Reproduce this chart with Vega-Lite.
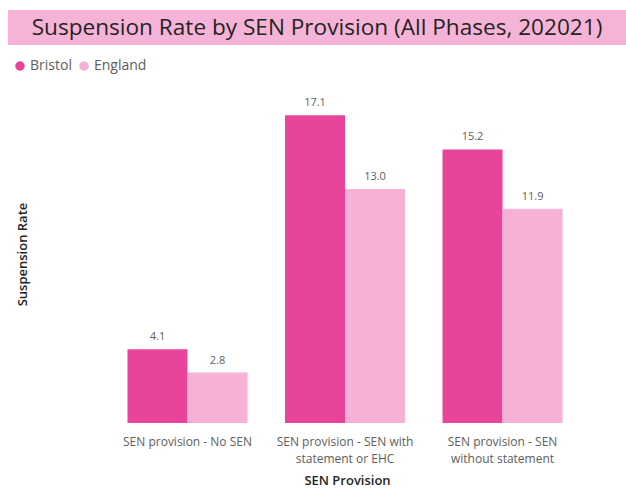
{
  "$schema": "https://vega.github.io/schema/vega-lite/v6.json",
  "background": "white",
  "padding": {"left": 8, "top": 10, "right": 0, "bottom": 5},
  "config": {"font": "Open Sans", "view": {"stroke": null}},
  "spacing": 14,
  "resolve": {"legend": {"color": "independent"}},
  "vconcat": [
    {
      "width": 618,
      "height": 35,
      "view": {"fill": "#F5B4D7", "stroke": null},
      "data": {"values": [{"t": "Suspension Rate by SEN Provision (All Phases, 202021)"}]},
      "mark": {"type": "text", "fontSize": 22.6, "color": "#252423", "baseline": "middle", "align": "center"},
      "encoding": {"text": {"field": "t"}}
    },
    {
      "width": 574,
      "height": 324,
      "data": {
        "values": [
          {"provision": "SEN provision - No SEN", "area": "Bristol", "rate": 4.1},
          {"provision": "SEN provision - No SEN", "area": "England", "rate": 2.8},
          {"provision": "SEN provision - SEN with statement or EHC", "area": "Bristol", "rate": 17.1},
          {"provision": "SEN provision - SEN with statement or EHC", "area": "England", "rate": 13.0},
          {"provision": "SEN provision - SEN without statement", "area": "Bristol", "rate": 15.2},
          {"provision": "SEN provision - SEN without statement", "area": "England", "rate": 11.9}
        ]
      },
      "encoding": {
        "x": {
          "field": "provision",
          "type": "nominal",
          "sort": null,
          "title": "SEN Provision",
          "scale": {"paddingInner": 0.238, "paddingOuter": 0.441, "align": 0.86},
          "axis": {
            "labelAngle": 0,
            "domain": false,
            "ticks": false,
            "labelPadding": 13,
            "labelFontSize": 12,
            "labelColor": "#605E5C",
            "labelLineHeight": 17,
            "labelExpr": "datum.value == 'SEN provision - SEN with statement or EHC' ? ['SEN provision - SEN with', 'statement or EHC'] : datum.value == 'SEN provision - SEN without statement' ? ['SEN provision - SEN', 'without statement'] : datum.value",
            "titleFontSize": 13,
            "titleFontWeight": 600,
            "titleColor": "#252423",
            "titlePadding": 10,
            "titleX": 339
          }
        },
        "xOffset": {"field": "area", "type": "nominal", "scale": {"paddingInner": 0}},
        "y": {
          "field": "rate",
          "type": "quantitative",
          "title": "Suspension Rate",
          "scale": {"domain": [0, 18]},
          "axis": {
            "labels": false,
            "ticks": false,
            "domain": false,
            "grid": false,
            "titleFontSize": 13,
            "titleFontWeight": 600,
            "titleColor": "#252423",
            "titleX": 21,
            "titleY": 155
          }
        },
        "color": {
          "field": "area",
          "type": "nominal",
          "title": null,
          "scale": {"domain": ["Bristol", "England"], "range": ["#E8449A", "#F5B2D6"]},
          "legend": {
            "orient": "none",
            "legendX": 5,
            "legendY": -40,
            "direction": "horizontal",
            "symbolType": "circle",
            "symbolSize": 90,
            "symbolOpacity": 1,
            "labelFontSize": 14,
            "labelColor": "#605E5C",
            "columnPadding": 5,
            "labelOffset": 3
          }
        }
      },
      "layer": [
        {"mark": {"type": "bar"}},
        {
          "mark": {"type": "text", "baseline": "bottom", "dy": -7, "fontSize": 11},
          "encoding": {
            "text": {"field": "rate", "type": "quantitative", "format": ".1f"},
            "color": {"value": "#605E5C"}
          }
        }
      ]
    }
  ]
}
